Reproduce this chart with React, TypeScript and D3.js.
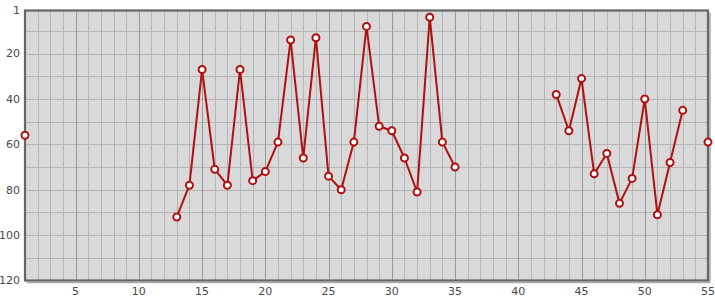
import React from "react";
import * as d3 from "d3";

const xValues: number[] = d3.range(1, 56);
const rankValues: (number | null)[] = [
  56, null, null, null, null, null, null, null, null, null,
  null, null, 92, 78, 27, 71, 78, 27, 76, 72,
  59, 14, 66, 13, 74, 80, 59, 8, 52, 54,
  66, 81, 4, 59, 70, null, null, null, null, null,
  null, null, 38, 54, 31, 73, 64, 86, 75, 40,
  91, 68, 45, null, 59,
];
const xTicks: number[] = [5, 10, 15, 20, 25, 30, 35, 40, 45, 50, 55];
const yTicks: number[] = [1, 20, 40, 60, 80, 100, 120];

const W = 715;
const H = 300;
const left = 25;
const right = 708;
const top = 10.5;
const bottom = 280.5;

export default function App() {
  const x = d3.scaleLinear().domain([1, 55]).range([left, right]);
  const y = d3.scaleLinear().domain([1, 120]).range([top, bottom]);
  const pts = xValues.map((xv, i) => ({ x: xv, v: rankValues[i] }));
  const line = d3
    .line<{ x: number; v: number | null }>()
    .defined((d) => d.v !== null)
    .x((d) => x(d.x))
    .y((d) => y(d.v as number));
  const minorX = d3.range(2, 55);
  const hLines = d3.range(10, 120, 10);
  const font = "DejaVu Sans, Verdana, sans-serif";
  return (
    <svg
      width={W}
      height={H}
      style={{ position: "absolute", left: 0, top: 0, background: "#fff" }}
    >
      <rect x={left} y={top} width={right - left} height={bottom - top} fill="#d9d9d9" />
      {hLines.map((v) => (
        <line key={"h" + v} x1={left} x2={right} y1={Math.round(y(v)) + 0.5} y2={Math.round(y(v)) + 0.5} stroke="#b5b5b5" strokeWidth={1} />
      ))}
      {minorX
        .filter((v) => v % 5 !== 0)
        .map((v) => (
          <line key={"m" + v} x1={Math.round(x(v)) + 0.5} x2={Math.round(x(v)) + 0.5} y1={top} y2={bottom} stroke="#b5b5b5" strokeWidth={1} />
        ))}
      {minorX
        .filter((v) => v % 5 === 0)
        .map((v) => (
          <line key={"M" + v} x1={Math.round(x(v)) + 0.5} x2={Math.round(x(v)) + 0.5} y1={top} y2={bottom} stroke="#999" strokeWidth={1} />
        ))}
      {/* frame shadow */}
      <line x1={right + 2} x2={right + 2} y1={top + 2} y2={bottom + 2} stroke="#aaa" strokeWidth={1.5} />
      <line x1={left + 2} x2={right + 2} y1={bottom + 2} y2={bottom + 2} stroke="#aaa" strokeWidth={1.5} />
      <rect x={left} y={top} width={right - left} height={bottom - top} fill="none" stroke="#666" strokeWidth={2.2} />
      <path d={line(pts) || ""} fill="none" stroke="#b01010" strokeWidth={2} strokeLinejoin="round" />
      {pts
        .filter((d) => d.v !== null)
        .map((d) => (
          <circle key={"c" + d.x} cx={x(d.x)} cy={y(d.v as number)} r={3.5} fill="#fff" stroke="#b01010" strokeWidth={2} />
        ))}
      {yTicks.map((t) => (
        <text key={"yt" + t} x={20} y={y(t)} dy="0.35em" textAnchor="end" fontFamily={font} fontSize={11} fill="#4a4a4a">
          {t}
        </text>
      ))}
      {xTicks.map((t) => (
        <text key={"xt" + t} x={x(t)} y={291} dy="0.35em" textAnchor="middle" fontFamily={font} fontSize={11} fill="#4a4a4a">
          {t}
        </text>
      ))}
    </svg>
  );
}
